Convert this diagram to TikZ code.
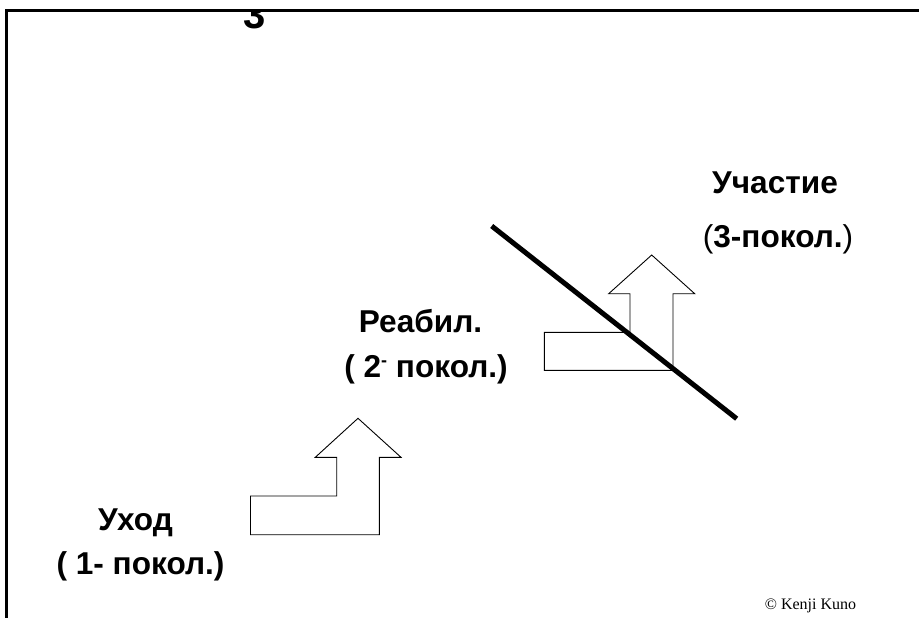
\documentclass[tikz,border=0pt]{standalone}
\usepackage{fontspec}
\setmainfont{Liberation Sans}
\newfontfamily\serifcredit{Liberation Serif}
\tikzset{
  lbl/.style={inner sep=0pt,font=\fontsize{31.6}{36}\selectfont\bfseries,text=black,anchor=base},
  arrowshape/.style={draw=black,line width=0.9pt,fill=white,line join=miter},
  framebar/.style={draw=black,line width=3pt},
  slash/.style={draw=black,line width=5pt}
}
\begin{document}
\begin{tikzpicture}[x=1pt,y=-1pt]
\useasboundingbox (0,0) rectangle (919,618);
\fill[white] (0,0) rectangle (919,618);
% clipped heading digit
\begin{scope}
\clip (0,10) rectangle (919,618);
\node[lbl,font=\fontsize{40}{44}\selectfont\bfseries] (digit) at (254.5,29) {3};
\end{scope}
\draw[framebar] (6.5,618) -- (6.5,10.5) -- (919,10.5);
% arrows
\draw[arrowshape] (250.5,496) -- (336.7,496) -- (336.7,457.3) -- (315.3,457.3) -- (358,418.3) -- (401,457.3) -- (379.3,457.3) -- (379.3,534.7) -- (250.5,534.7) -- cycle;
\draw[arrowshape] (544.3,332.3) -- (630,332.3) -- (630,293.7) -- (608.7,293.7) -- (651.7,255) -- (694.7,293.7) -- (673,293.7) -- (673,370.3) -- (544.3,370.3) -- cycle;
\coordinate (slashA) at (491.7,226);
\coordinate (slashB) at (736.7,418.7);
\draw[slash] (slashA) -- (slashB);
% labels
\node[lbl] (care) at (135.5,530) {Уход};
\node[lbl] (careg) at (140.5,574) {( 1- покол.)};
\node[lbl] (rehab) at (420.5,332) {Реабил.};
\node[lbl] (rehabg) at (426,377) {( 2\raisebox{0.6ex}{\fontsize{18}{18}\selectfont -} покол.)};
\node[lbl] (part) at (775,193) {Участие};
\node[lbl] (partg) at (778,247) {{\mdseries(}3-покол.{\mdseries)}};
\node[inner sep=0pt,anchor=base,font=\fontsize{16}{18}\selectfont\serifcredit] (credit) at (810.5,609) {© Kenji Kuno};
\end{tikzpicture}
\end{document}
